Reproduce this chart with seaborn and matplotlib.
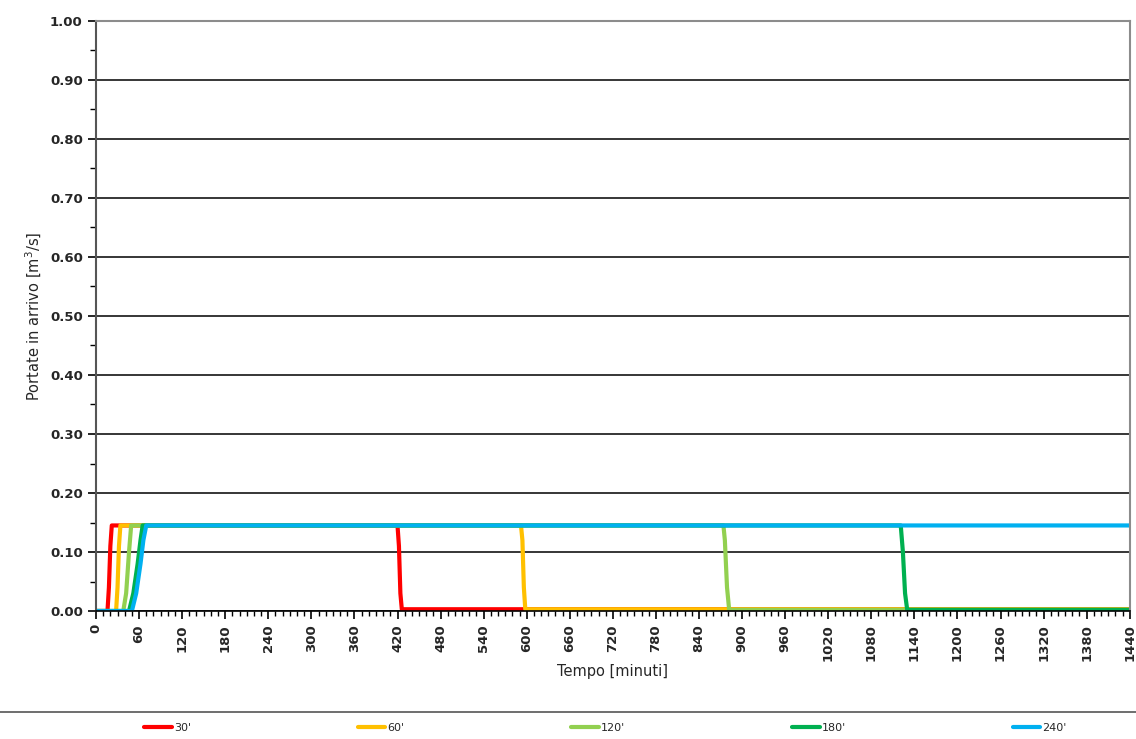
import matplotlib
matplotlib.use("Agg")
import matplotlib.pyplot as plt
import matplotlib.ticker as mticker
from matplotlib.lines import Line2D
import pandas as pd
import seaborn as sns

# hydrographs: time [min] and inflow [m3/s]
durations = ["30'", "60'", "120'", "180'", "240'"]
colors = ["#FF0000", "#FFC000", "#92D050", "#00B050", "#00B0F0"]

t_30 = [0, 16, 18, 20, 22, 420, 422, 424, 426, 1440]
q_30 = [0.0, 0.0, 0.04, 0.11, 0.145, 0.145, 0.11, 0.03, 0.003, 0.003]

t_60 = [0, 28, 30, 32, 34, 592, 594, 596, 598, 1440]
q_60 = [0.0, 0.0, 0.04, 0.11, 0.145, 0.145, 0.12, 0.04, 0.003, 0.003]

t_120 = [0, 38, 42, 46, 49, 874, 876, 879, 882, 1440]
q_120 = [0.0, 0.0, 0.03, 0.10, 0.145, 0.145, 0.12, 0.04, 0.002, 0.002]

t_180 = [0, 46, 52, 58, 62, 65, 1121, 1124, 1127, 1130, 1440]
q_180 = [0.0, 0.0, 0.03, 0.08, 0.12, 0.145, 0.145, 0.10, 0.03, 0.002, 0.002]

t_240 = [0, 50, 56, 62, 66, 70, 1440]
q_240 = [0.0, 0.0, 0.03, 0.08, 0.12, 0.145, 0.145]

series = [(t_30, q_30), (t_60, q_60), (t_120, q_120), (t_180, q_180), (t_240, q_240)]
frames = []
for name, (t, q) in zip(durations, series):
    frames.append(pd.DataFrame({"tempo": t, "portata": q, "durata": name}))
df = pd.concat(frames, ignore_index=True)

sns.set_style("white")
plt.rcParams["font.family"] = ["DejaVu Sans"]

fig = plt.figure(figsize=(11.36, 7.39), dpi=100)
ax = fig.add_axes([0.0845, 0.1732, 0.9100, 0.7984])

sns.lineplot(data=df, x="tempo", y="portata", hue="durata",
             hue_order=durations, palette=colors, lw=3,
             estimator=None, sort=False, legend=False, ax=ax)

ax.set_xlim(0, 1440)
ax.set_ylim(0, 1.0)
ax.xaxis.set_major_locator(mticker.MultipleLocator(60))
ax.xaxis.set_minor_locator(mticker.MultipleLocator(10))
ax.yaxis.set_major_locator(mticker.MultipleLocator(0.1))
ax.yaxis.set_minor_locator(mticker.MultipleLocator(0.05))
ax.yaxis.set_major_formatter(mticker.FormatStrFormatter("%.2f"))
ax.grid(axis="y", which="major", color="black", lw=1.1)
ax.set_axisbelow(True)

ax.tick_params(axis="x", which="major", direction="out", length=6, width=1.2,
               labelrotation=90, labelsize=9.5, color="black", bottom=True)
ax.tick_params(axis="x", which="minor", direction="out", length=3.5, width=1,
               color="black", bottom=True)
ax.tick_params(axis="y", which="major", direction="out", length=6, width=1.2,
               labelsize=9.5, color="black", left=True)
ax.tick_params(axis="y", which="minor", direction="out", length=4, width=1,
               color="black", left=True)
for lab in ax.get_xticklabels() + ax.get_yticklabels():
    lab.set_fontweight("bold")

for side in ["top", "right"]:
    ax.spines[side].set_color("#8c8c8c")
    ax.spines[side].set_linewidth(1.5)
ax.spines["left"].set_color("#555555")
ax.spines["left"].set_linewidth(1.5)
ax.spines["bottom"].set_color("black")
ax.spines["bottom"].set_linewidth(1.2)

ax.set_xlabel("Tempo [minuti]", fontsize=10.5, labelpad=2)
ax.set_ylabel("Portate in arrivo [m$^3$/s]", fontsize=10.5)

# separator above the legend
fig.add_artist(Line2D([0, 1], [0.0365, 0.0365], color="#555555", lw=1.2,
                      transform=fig.transFigure))

handles = [Line2D([], [], color=c, lw=3) for c in colors]
fig.legend(handles, durations, loc="lower left", ncol=5, mode="expand",
           bbox_to_anchor=(0.118, -0.005, 0.83, 0.03), frameon=False,
           fontsize=8, handlelength=2.5, handletextpad=0.2)

fig.savefig("out.png", dpi=100)
plt.close(fig)
